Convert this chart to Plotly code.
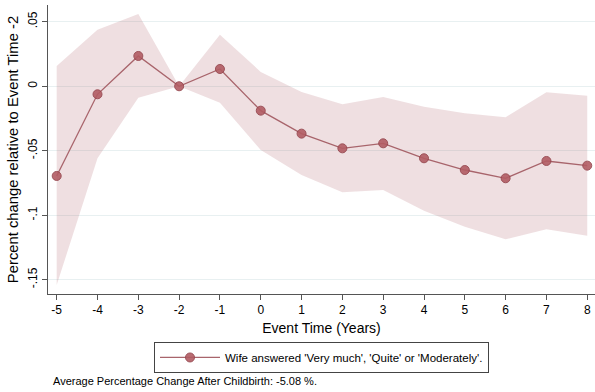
import plotly.graph_objects as go

event_time = [-5, -4, -3, -2, -1, 0, 1, 2, 3, 4, 5, 6, 7, 8]
x_ticktext = ["-5", "-4", "-3", "-2", "-1", "0", "1", "2", "3", "4", "5", "6", "7", "8"]
estimate = [-0.0695, -0.0062, 0.0235, 0.0, 0.0134, -0.0189, -0.0367, -0.0481,
            -0.0442, -0.0558, -0.0649, -0.0713, -0.0579, -0.0615]
ci_upper = [0.0157, 0.0439, 0.0560, 0.0, 0.0400, 0.0111, -0.0044, -0.0140,
            -0.0083, -0.0158, -0.0209, -0.0240, -0.0047, -0.0073]
ci_lower = [-0.1540, -0.0558, -0.0088, 0.0, -0.0127, -0.0494, -0.0688, -0.0822,
            -0.0804, -0.0964, -0.1088, -0.1186, -0.1109, -0.1158]
y_tickvals = [0.05, 0.0, -0.05, -0.1, -0.15]
y_ticktext = [".05", "0", "-.05", "-.1", "-.15"]
series_name = "Wife answered 'Very much', 'Quite' or 'Moderately'."
note_text = "Average Percentage Change After Childbirth: -5.08 %."

band_color = "rgba(176, 96, 104, 0.20)"
line_color = "#a8646b"
marker_fill = "#b25c63"
marker_edge = "#94434b"
font_family = "Liberation Sans, Arial, Helvetica, sans-serif"

fig = go.Figure()
fig.add_trace(go.Scatter(x=event_time, y=ci_lower, mode="lines", line=dict(width=0),
                         showlegend=False, hoverinfo="skip"))
fig.add_trace(go.Scatter(x=event_time, y=ci_upper, mode="lines", line=dict(width=0),
                         fill="tonexty", fillcolor=band_color, showlegend=False, hoverinfo="skip"))
fig.add_trace(go.Scatter(x=event_time, y=estimate, mode="lines+markers", name=series_name,
                         line=dict(color=line_color, width=1.3),
                         marker=dict(size=9, color=marker_fill, opacity=0.9,
                                     line=dict(color=marker_edge, width=1))))

fig.update_layout(
    width=595, height=392,
    margin=dict(l=48, r=0, t=5, b=98),
    paper_bgcolor="white", plot_bgcolor="white",
    font=dict(family=font_family, color="black", size=12),
    showlegend=True,
    legend=dict(orientation="h", x=0.5, xanchor="center", y=-0.166, yanchor="top",
                bordercolor="#444", borderwidth=1, font=dict(size=11.5),
                itemwidth=60, tracegroupgap=0),
    xaxis=dict(range=[-5.213, 8.19], tickmode="array", tickvals=event_time, ticktext=x_ticktext,
               showgrid=False, zeroline=False, showline=True, linecolor="#555", linewidth=1,
               ticks="outside", ticklen=5, tickcolor="#555", tickfont=dict(size=12),
               title=dict(text="Event Time (Years)", font=dict(size=14), standoff=6)),
    yaxis=dict(range=[-0.161, 0.063], tickmode="array", tickvals=y_tickvals, ticktext=y_ticktext,
               tickangle=-90, showgrid=True, gridcolor="#e8f0f1", gridwidth=1,
               zeroline=False, showline=True, linecolor="#555", linewidth=1,
               ticks="outside", ticklen=5, tickcolor="#555", tickfont=dict(size=12),
               title=dict(text="Percent change relative to Event Time -2", font=dict(size=14.8), standoff=4)),
    annotations=[dict(text=note_text, xref="paper", yref="paper", x=0.0055, y=-0.301,
                      xanchor="left", yanchor="middle", showarrow=False, font=dict(size=11))],
)

fig.write_html("out.html")
